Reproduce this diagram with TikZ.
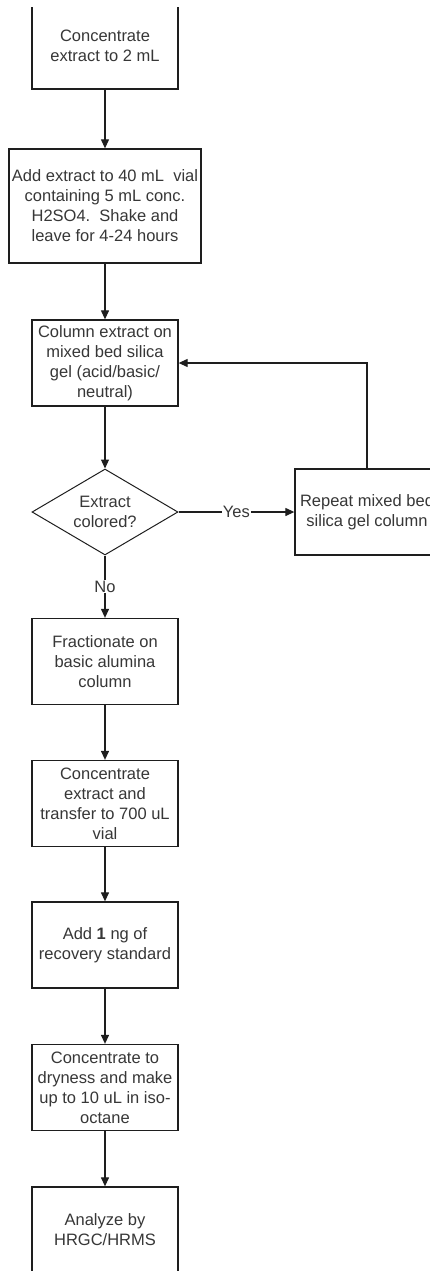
\documentclass[tikz,border=0pt]{standalone}
\usepackage{fontspec}
\setmainfont{Liberation Sans}
\usetikzlibrary{shapes.geometric,arrows.meta}
\definecolor{inkgray}{RGB}{30,30,30}
\definecolor{textgray}{RGB}{55,55,55}

\begin{document}
\begin{tikzpicture}[x=1pt,y=-1pt,
  stepbox/.style={draw=inkgray,line width=1.3pt,fill=white,minimum width=146pt,
    minimum height=86pt,inner sep=0pt,align=center,text=textgray,
    font=\fontsize{16.5}{20}\selectfont},
  choice/.style={diamond,aspect=1.7,draw=inkgray,line width=1pt,minimum width=146pt,
    minimum height=86pt,inner sep=0pt,align=center,text=textgray,
    font=\fontsize{16.5}{20}\selectfont},
  flow/.style={draw=inkgray,line width=1.2pt,-{Triangle[length=9pt,width=8pt]}},
  tag/.style={fill=white,inner sep=1pt,text=textgray,font=\fontsize{16.5}{20}\selectfont}]
  \useasboundingbox (0,0) rectangle (430,1271);
  \clip (0,8) rectangle (430,1271);
  % steps down the left column
  \node[stepbox] (conc) at (105,46) {Concentrate\\extract to 2 mL};
  \node[stepbox,minimum width=192pt,minimum height=114pt] (acid) at (105,206)
    {Add extract to 40 mL\ \ vial\\containing 5 mL conc.\\H2SO4.\ \ Shake and\\leave for 4-24 hours};
  \node[stepbox] (silica) at (105,363) {Column extract on\\mixed bed silica\\gel (acid/basic/\\neutral)};
  \node[choice] (check) at (105,512) {Extract\\colored?};
  \node[stepbox,minimum width=144pt] (repeat) at (367,512) {Repeat mixed bed\\silica gel column};
  \node[stepbox] (alumina) at (105,661.5) {Fractionate on\\basic alumina\\column};
  \node[stepbox] (transfer) at (105,803.5) {Concentrate\\extract and\\transfer to 700 uL\\vial};
  \node[stepbox] (recovery) at (105,945) {Add \textbf{1} ng of\\recovery standard};
  \node[stepbox] (dryness) at (105,1087.5) {Concentrate to\\dryness and make\\up to 10 uL in iso-\\octane};
  \node[stepbox] (analyze) at (105,1230) {Analyze by\\HRGC/HRMS};
  % connectors
  \draw[flow] (conc) -- (acid);
  \draw[flow] (acid) -- (silica);
  \draw[flow] (silica) -- (check);
  \draw[flow] (check) -- node[tag] {Yes} (repeat);
  \draw[flow] (repeat.north) |- (silica.east);
  \draw[flow] (check) -- node[tag] {No} (alumina);
  \draw[flow] (alumina) -- (transfer);
  \draw[flow] (transfer) -- (recovery);
  \draw[flow] (recovery) -- (dryness);
  \draw[flow] (dryness) -- (analyze);
\end{tikzpicture}
\end{document}
